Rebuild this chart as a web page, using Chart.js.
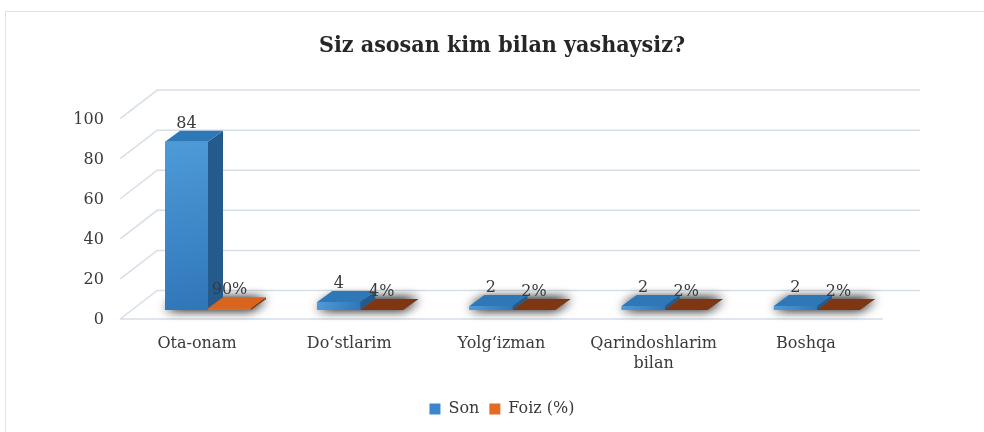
<!DOCTYPE html>
<html>
<head>
<meta charset="utf-8">
<script src="https://cdn.jsdelivr.net/npm/chart.js@4.4.1/dist/chart.umd.min.js"></script>
<style>
  body { margin: 0; background: #fff; }
  #wrap { position: relative; width: 984px; height: 432px; overflow: hidden; }
  #frame { position: absolute; left: 5px; top: 11px; width: 1000px; height: 500px; border: 1.5px solid #dde3ea; }
  canvas { position: absolute; left: 0; top: 0; }
</style>
</head>
<body>
<div id="wrap"><div id="frame"></div><canvas id="chart" width="984" height="432"></canvas></div>
<script>
const categories = ["Ota-onam", "Do‘stlarim", "Yolg‘izman", ["Qarindoshlarim", "bilan"], "Boshqa"];
const sonValues = [84, 4, 2, 2, 2];
const foizValues = [0.90, 0.04, 0.02, 0.02, 0.02];
const yTicks = [0, 20, 40, 60, 80, 100];
const seriesNames = ["Son", "Foiz (%)"];

const FONT = "'DejaVu Serif', serif";
const TEXT = '#3a3a3a';
const DX = 15, DY = -11;          // bar depth
const FRONT = 9, BACK = -19.5;    // wall lines, relative to the bar plane
const SLOPE = 37 / 28.5;          // side wall: x shift per px of y

const blueTop = '#2e78b8', blueSide = '#245b8c';
const orangeTops = ['#d8641f', '#7e3613', '#7e3613', '#7e3613', '#7e3613'];
const orangeSide = '#8a3a10';

function poly(ctx, pts, fill) {
  ctx.beginPath();
  ctx.moveTo(pts[0][0], pts[0][1]);
  for (let k = 1; k < pts.length; k++) ctx.lineTo(pts[k][0], pts[k][1]);
  ctx.closePath();
  ctx.fillStyle = fill;
  ctx.fill();
}

const threeD = {
  id: 'threeD',
  beforeDatasetsDraw(chart) {
    const {ctx, chartArea: a, scales: {y}} = chart;
    ctx.save();
    ctx.strokeStyle = '#d6dee7';
    ctx.lineWidth = 1.5;
    yTicks.forEach(v => {
      const py = y.getPixelForValue(v);
      ctx.beginPath();
      ctx.moveTo(a.left - FRONT * SLOPE, py + FRONT);
      ctx.lineTo(a.left - BACK * SLOPE, py + BACK);
      ctx.lineTo(a.right + 27, py + BACK);
      ctx.stroke();
    });
    const p0 = y.getPixelForValue(0);
    ctx.beginPath();
    ctx.moveTo(a.left - FRONT * SLOPE, p0 + FRONT);
    ctx.lineTo(a.right - 10, p0 + FRONT);
    ctx.stroke();

    // soft shadow under each group (the footprint itself is hidden by the bars)
    const m0 = chart.getDatasetMeta(0), m1 = chart.getDatasetMeta(1);
    ctx.shadowColor = 'rgba(0,0,0,0.75)';
    ctx.shadowBlur = 12;
    categories.forEach((c, i) => {
      const b0 = m0.data[i], b1 = m1.data[i];
      const l = b0.x - b0.width / 2, r = b1.x + b1.width / 2, base = b0.base;
      for (let k = 0; k < 2; k++) {
        poly(ctx, [[l, base - 1], [r, base - 1], [r + DX, base + DY], [l + DX, base + DY]], '#666');
      }
    });
    ctx.restore();
  },
  afterDatasetsDraw(chart) {
    const {ctx} = chart;
    const metas = [chart.getDatasetMeta(0), chart.getDatasetMeta(1)];
    ctx.save();
    categories.forEach((c, i) => {
      metas.forEach((m, d) => {
        const bar = m.data[i];
        const l = bar.x - bar.width / 2, r = bar.x + bar.width / 2;
        const top = bar.y, base = bar.base;
        poly(ctx, [[r, top], [r + DX, top + DY], [r + DX, base + DY], [r, base]], d === 0 ? blueSide : orangeSide);
        poly(ctx, [[l, top], [l + DX, top + DY], [r + DX, top + DY], [r, top]], d === 0 ? blueTop : orangeTops[i]);
        let front;
        if (d === 0) {
          front = ctx.createLinearGradient(l, top, r, base);
          front.addColorStop(0, '#4f9ad8');
          front.addColorStop(1, '#2f76b9');
        } else {
          front = '#e06a20';
        }
        poly(ctx, [[l, top], [r, top], [r, base], [l, base]], front);
      });
    });

    // value labels
    ctx.fillStyle = TEXT;
    ctx.font = '16px ' + FONT;
    ctx.textAlign = 'center';
    ctx.textBaseline = 'bottom';
    metas.forEach((m, d) => {
      m.data.forEach((bar, i) => {
        const txt = d === 0 ? String(sonValues[i]) : Math.round(foizValues[i] * 100) + '%';
        ctx.fillText(txt, bar.x, bar.y + DY + 1);
      });
    });
    ctx.restore();
  }
};

new Chart(document.getElementById('chart'), {
  type: 'bar',
  data: {
    labels: categories,
    datasets: [
      { label: seriesNames[0], data: sonValues, backgroundColor: '#3a87cb' },
      { label: seriesNames[1], data: foizValues, backgroundColor: '#e36c22' }
    ]
  },
  options: {
    responsive: false,
    animation: false,
    layout: { padding: { left: 20, right: 0, top: 0, bottom: 5 } },
    datasets: { bar: { categoryPercentage: 0.565, barPercentage: 1 } },
    plugins: {
      title: {
        display: true,
        text: 'Siz asosan kim bilan yashaysiz?',
        color: '#262626',
        font: { family: "'DejaVu Serif Condensed', 'Liberation Serif', serif", size: 23, weight: 'bold' },
        padding: { top: 32, bottom: 50 }
      },
      legend: {
        position: 'bottom',
        labels: { boxWidth: 11, boxHeight: 11, color: TEXT, font: { family: FONT, size: 16 }, padding: 10 }
      },
      tooltip: { enabled: false }
    },
    scales: {
      x: {
        grid: { display: false, drawTicks: false },
        border: { display: false },
        ticks: { color: TEXT, font: { family: FONT, size: 16, lineHeight: 1.3 }, padding: 23, labelOffset: -11, maxRotation: 0, autoSkip: false },
        afterFit: s => { s.height = 81; }
      },
      y: {
        min: 0, max: 100,
        grid: { display: false, drawTicks: false },
        border: { display: false },
        ticks: { stepSize: 20, color: TEXT, font: { family: FONT, size: 16 }, padding: 28, labelOffset: 10 },
        afterFit: s => { s.width = 111.9; }
      },
      y2: {
        position: 'right',
        grid: { display: false, drawTicks: false },
        border: { display: false },
        ticks: { display: false },
        afterFit: s => { s.width = 91; }
      }
    }
  },
  plugins: [threeD]
});
</script>
</body>
</html>
